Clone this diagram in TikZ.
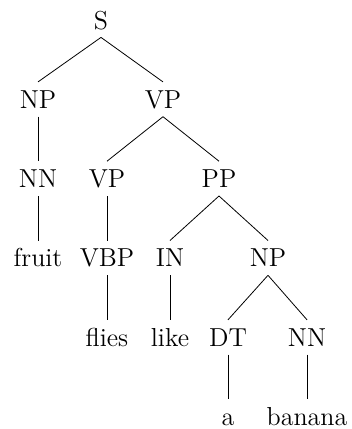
\documentclass[tikz,border=0pt]{standalone}
\usepackage{tikz}

\tikzset{lbl/.style={inner sep=3pt,text height=10pt,text depth=1pt,font=\fontsize{13}{15}\selectfont}}

\begin{document}
\begin{tikzpicture}[x=0.5pt,y=-0.5pt,every node/.style={lbl}]
      \useasboundingbox (0,0) rectangle (352,429);
      % level 0 and 1
      \node (s) at (101,20) {S};
      \node (np) at (38,99.3) {NP};
      \node (vp) at (163,99.3) {VP};
      % level 2
      \node (nn) at (38,178.6) {NN};
      \node (vpb) at (107,178.6) {VP};
      \node (pp) at (219,178.6) {PP};
      % level 3
      \node (fruit) at (38,257.9) {fruit};
      \node (vbp) at (107,257.9) {VBP};
      \node (in) at (170,257.9) {IN};
      \node (npb) at (268,257.9) {NP};
      % level 4
      \node (flies) at (107,337.2) {flies};
      \node (like) at (170,337.2) {like};
      \node (dt) at (228,337.2) {DT};
      \node (nnb) at (307,337.2) {NN};
      % level 5
      \node (a) at (228,416.5) {a};
      \node (banana) at (307,416.5) {banana};
      \draw (s.south) -- (np.north);
      \draw (s.south) -- (vp.north);
      \draw (np.south) -- (nn.north);
      \draw (vp.south) -- (vpb.north);
      \draw (vp.south) -- (pp.north);
      \draw (nn.south) -- (fruit.north);
      \draw (vpb.south) -- (vbp.north);
      \draw (pp.south) -- (in.north);
      \draw (pp.south) -- (npb.north);
      \draw (vbp.south) -- (flies.north);
      \draw (in.south) -- (like.north);
      \draw (npb.south) -- (dt.north);
      \draw (npb.south) -- (nnb.north);
      \draw (dt.south) -- (a.north);
      \draw (nnb.south) -- (banana.north);
    \end{tikzpicture}
\end{document}
